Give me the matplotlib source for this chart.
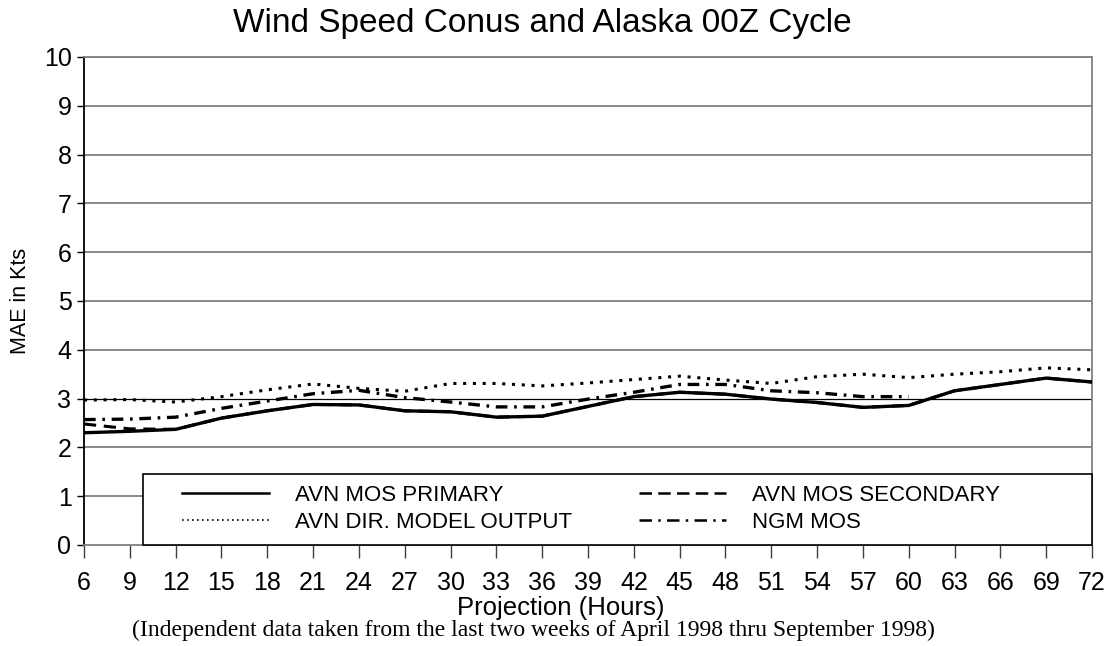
import numpy as np
import matplotlib.pyplot as plt
from matplotlib.lines import Line2D
from matplotlib.patches import Rectangle

# projection hours
hours = [6, 9, 12, 15, 18, 21, 24, 27, 30, 33, 36, 39, 42, 45, 48, 51, 54, 57, 60, 63, 66, 69, 72]

# MAE (kts)
avn_primary = [2.30, 2.33, 2.37, 2.60, 2.75, 2.88, 2.87, 2.75, 2.73, 2.62, 2.64, 2.84,
               3.04, 3.13, 3.09, 2.99, 2.92, 2.82, 2.86, 3.16, 3.29, 3.42, 3.34]
avn_secondary = [2.48, 2.38, 2.37, 2.60, 2.75, 2.88, 2.87, 2.75, 2.73, 2.62, 2.64, 2.84,
                 3.04, 3.13, 3.09, 2.99, 2.92, 2.82, 2.86, 3.16, 3.29, 3.42, 3.34]
avn_dmo = [2.97, 2.98, 2.93, 3.04, 3.18, 3.30, 3.21, 3.15, 3.31, 3.31, 3.26, 3.32,
           3.39, 3.46, 3.38, 3.31, 3.45, 3.50, 3.43, 3.50, 3.55, 3.63, 3.59]
ngm_hours = hours[:19]
ngm_mos = [2.57, 2.58, 2.62, 2.80, 2.95, 3.10, 3.17, 3.02, 2.93, 2.83, 2.83, 2.99,
           3.13, 3.29, 3.29, 3.16, 3.12, 3.04, 3.04]

labels = ['AVN MOS PRIMARY', 'AVN DIR. MODEL OUTPUT', 'AVN MOS SECONDARY', 'NGM MOS']

plt.rcParams['font.family'] = ['Liberation Sans', 'DejaVu Sans']

fig = plt.figure(figsize=(11.15, 6.46), dpi=100)
ax = fig.add_axes([84 / 1115, 101 / 646, 1008 / 1115, 488 / 646])

# сетка, линия 3 чёрная
for yv in range(1, 11):
    if yv == 3:
        continue
    ax.axhline(yv, color='#808080', lw=1.3, zorder=1)
ax.axhline(3, color='black', lw=0.9, zorder=1)

ax.plot(hours, avn_secondary, color='black', lw=2.2, ls=(0, (4, 2.5)), zorder=3)
ax.plot(hours, avn_dmo, color='black', lw=2.2, ls=(0, (1, 2.2)), zorder=3)
ax.plot(ngm_hours, ngm_mos, color='black', lw=2.4, ls=(0, (3.5, 2, 0.8, 2)), zorder=3)
ax.plot(hours, avn_primary, color='black', lw=2.4, zorder=4)

ax.set_xlim(6, 72)
ax.set_ylim(0, 10)
ax.set_xticks(hours)
ax.set_yticks(range(0, 11))
ax.tick_params(axis='x', direction='out', length=9, width=1, color='#404040',
               labelsize=18, pad=10)
ax.tick_params(axis='y', direction='out', length=5, width=1, labelsize=18, pad=4)

for side in ['top', 'right', 'bottom']:
    ax.spines[side].set_color('#808080')
    ax.spines[side].set_linewidth(1.3)
ax.spines['left'].set_color('black')
ax.spines['left'].set_linewidth(1.3)

ax.set_xlabel('Projection (Hours)', fontsize=18.5)
ax.xaxis.set_label_coords(0.473, -0.13)
ax.xaxis.label.set_va('center')
ax.set_ylabel('MAE in Kts', fontsize=15.5, labelpad=9)

fig.text(0.486, 0.964, 'Wind Speed Conus and Alaska 00Z Cycle',
         ha='center', va='center', fontsize=24)
fig.text(0.478, 0.024, '(Independent data taken from the last two weeks of April 1998 thru September 1998)',
         ha='center', va='center', fontsize=17, family='Liberation Serif')

# рамка легенды
box = Rectangle((59 / 1008, 0), 1 - 59 / 1008, 71 / 488, transform=ax.transAxes,
                facecolor='white', edgecolor='black', lw=1.2, zorder=5, clip_on=False)
ax.add_patch(box)

handles = [
    Line2D([], [], color='black', lw=1.8),
    Line2D([], [], color='black', lw=1.2, ls=(0, (1, 2))),
    Line2D([], [], color='black', lw=1.8, ls=(0, (5, 2.5))),
    Line2D([], [], color='black', lw=1.8, ls=(0, (5, 2.5, 1, 2.5))),
]
leg = ax.legend(handles, labels, ncol=2, loc='center left',
                bbox_to_anchor=(98 / 1008, 36 / 488),
                fontsize=16, frameon=False, handlelength=3.9, handletextpad=1.2,
                borderaxespad=0, borderpad=0, labelspacing=0.25,
                columnspacing=3.0)
leg.set_zorder(6)

fig.savefig('out.png', dpi=100)
